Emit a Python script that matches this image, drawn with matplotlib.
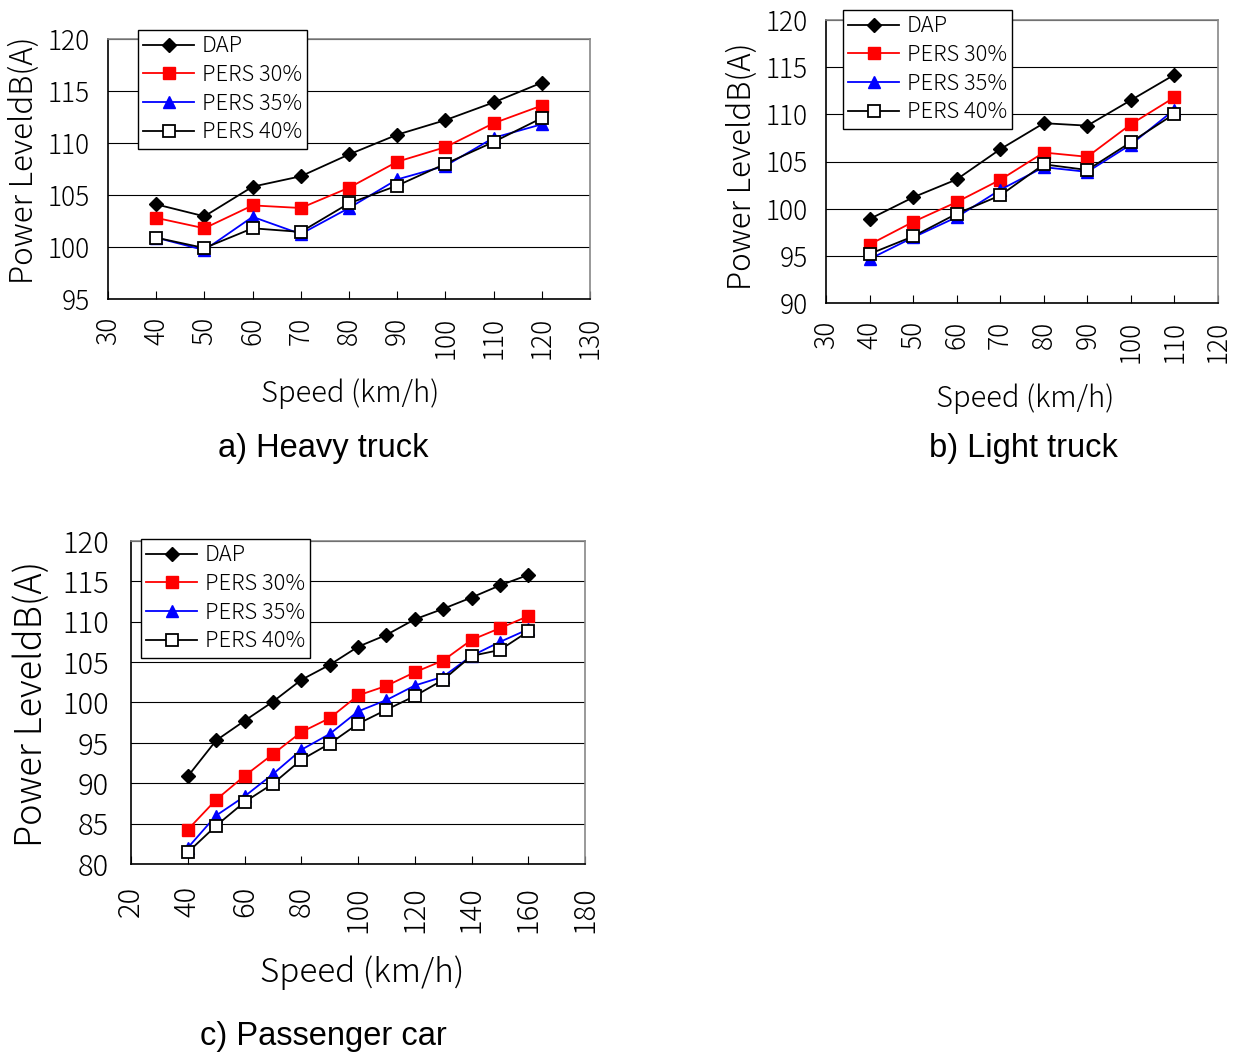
import matplotlib.pyplot as plt
import numpy as np

# speeds (km/h)
speed_heavy = [40, 50, 60, 70, 80, 90, 100, 110, 120]
speed_light = [40, 50, 60, 70, 80, 90, 100, 110]
speed_car = [40, 50, 60, 70, 80, 90, 100, 110, 120, 130, 140, 150, 160]

# a) heavy truck
heavy_dap = [104.1, 102.95, 105.8, 106.8, 108.9, 110.8, 112.2, 113.9, 115.8]
heavy_p30 = [102.8, 101.8, 104.0, 103.75, 105.7, 108.2, 109.6, 111.9, 113.6]
heavy_p35 = [100.9, 99.7, 102.9, 101.25, 103.75, 106.5, 107.8, 110.5, 111.8]
heavy_p40 = [100.9, 99.9, 101.8, 101.45, 104.2, 105.9, 108.0, 110.1, 112.4]

# b) light truck
light_dap = [98.9, 101.2, 103.1, 106.3, 109.06, 108.8, 111.5, 114.2]
light_p30 = [96.2, 98.6, 100.7, 103.06, 105.95, 105.5, 108.95, 111.8]
light_p35 = [94.66, 96.95, 99.1, 102.0, 104.4, 103.9, 106.8, 110.5]
light_p40 = [95.2, 97.06, 99.46, 101.4, 104.7, 104.1, 107.05, 110.05]

# c) passenger car
car_dap = [90.85, 95.3, 97.73, 100.1, 102.8, 104.66, 106.9, 108.37, 110.3, 111.6, 113.0, 114.5, 115.8]
car_p30 = [84.25, 87.96, 90.9, 93.6, 96.33, 98.06, 100.87, 102.06, 103.75, 105.2, 107.75, 109.2, 110.7]
car_p35 = [82.0, 86.0, 88.37, 91.13, 94.14, 96.1, 98.9, 100.3, 102.1, 103.2, 105.77, 107.5, 109.07]
car_p40 = [81.44, 84.74, 87.67, 89.94, 92.9, 94.9, 97.36, 99.1, 100.8, 102.8, 105.77, 106.5, 108.8]

series_labels = ['DAP', 'PERS 30%', 'PERS 35%', 'PERS 40%']

W, H = 1239, 1053
GOTH = ['Noto Sans CJK JP', 'DejaVu Sans']
fig = plt.figure(figsize=(W / 100, H / 100), dpi=100)


def px_rect(left, top, right, bottom):
    return [left / W, 1 - bottom / H, (right - left) / W, (bottom - top) / H]


def panel(rect, x, ys, xlim, xstep, ylim, ystep, leg_xy, tick_fs, xlab_fs, ylab_fs,
          ylab_pos, xlab_pos, pad):
    ax = fig.add_axes(px_rect(*rect))
    styles = [
        dict(color='black', marker='D', markersize=7, markerfacecolor='black'),
        dict(color='red', marker='s', markersize=8, markerfacecolor='red'),
        dict(color='blue', marker='^', markersize=8, markerfacecolor='blue'),
        dict(color='black', marker='s', markersize=8, markerfacecolor='white',
             markeredgewidth=1.3),
    ]
    for y, lab, st in zip(ys, series_labels, styles):
        ax.plot(x, y, linewidth=1.3, label=lab, clip_on=False, **st)
    ax.set_xlim(*xlim)
    ax.set_ylim(*ylim)
    ax.set_xticks(np.arange(xlim[0], xlim[1] + 1, xstep))
    ax.set_yticks(np.arange(ylim[0], ylim[1] + 1, ystep))
    ax.yaxis.grid(True, color='black', linewidth=0.8)
    ax.set_axisbelow(True)
    for s in ['top', 'right']:
        ax.spines[s].set_color('#888888')
        ax.spines[s].set_linewidth(1.2)
    for s in ['left', 'bottom']:
        ax.spines[s].set_color('black')
        ax.spines[s].set_linewidth(1.2)
    ax.tick_params(axis='x', direction='in', length=6, width=0.8, pad=pad,
                   labelsize=tick_fs, labelrotation=90)
    ax.tick_params(axis='y', direction='in', length=0, pad=pad, labelsize=tick_fs)
    for t in ax.get_xticklabels() + ax.get_yticklabels():
        t.set_family(GOTH)
        t.set_weight('light')
    fig.text(ylab_pos[0] / W, 1 - ylab_pos[1] / H, 'Power LeveldB(A)', rotation=90,
             ha='center', va='center', fontsize=ylab_fs, family=GOTH, weight='light')
    fig.text(xlab_pos[0] / W, 1 - xlab_pos[1] / H, 'Speed (km/h)',
             ha='center', va='center', fontsize=xlab_fs, family=GOTH, weight='light')
    leg = ax.legend(loc='upper left', bbox_to_anchor=(leg_xy[0] / W, 1 - leg_xy[1] / H),
                    bbox_transform=fig.transFigure, borderaxespad=0, fancybox=False,
                    framealpha=1, edgecolor='black', handlelength=2.3,
                    handletextpad=0.35, labelspacing=0.3, borderpad=0.25,
                    prop={'family': GOTH, 'size': 15.8, 'weight': 'light'})
    leg.get_frame().set_linewidth(1.0)
    return ax


panel((108, 39, 590, 299), speed_heavy, [heavy_dap, heavy_p30, heavy_p35, heavy_p40],
      (30, 130), 10, (95, 120), 5, (138, 30), 19, 21, 22.5, (24, 160), (350, 394), 13)
panel((826, 20, 1218, 303), speed_light, [light_dap, light_p30, light_p35, light_p40],
      (30, 120), 10, (90, 120), 5, (843, 10), 19, 21, 22.5, (742, 166), (1025, 399), 13)
panel((131, 541, 585, 864), speed_car, [car_dap, car_p30, car_p35, car_p40],
      (20, 180), 20, (80, 120), 5, (141, 539), 21, 24, 26, (32, 704), (362, 973), 16)

cap = ['Liberation Sans', 'DejaVu Sans']
fig.text(323 / W, 1 - 448 / H, 'a) Heavy truck', ha='center', va='center', fontsize=23.5, family=cap)
fig.text(1023 / W, 1 - 448 / H, 'b) Light truck', ha='center', va='center', fontsize=23.5, family=cap)
fig.text(323 / W, 1 - 1037 / H, 'c) Passenger car', ha='center', va='center', fontsize=23.5, family=cap)

fig.savefig('out.png', dpi=100, facecolor='white')
